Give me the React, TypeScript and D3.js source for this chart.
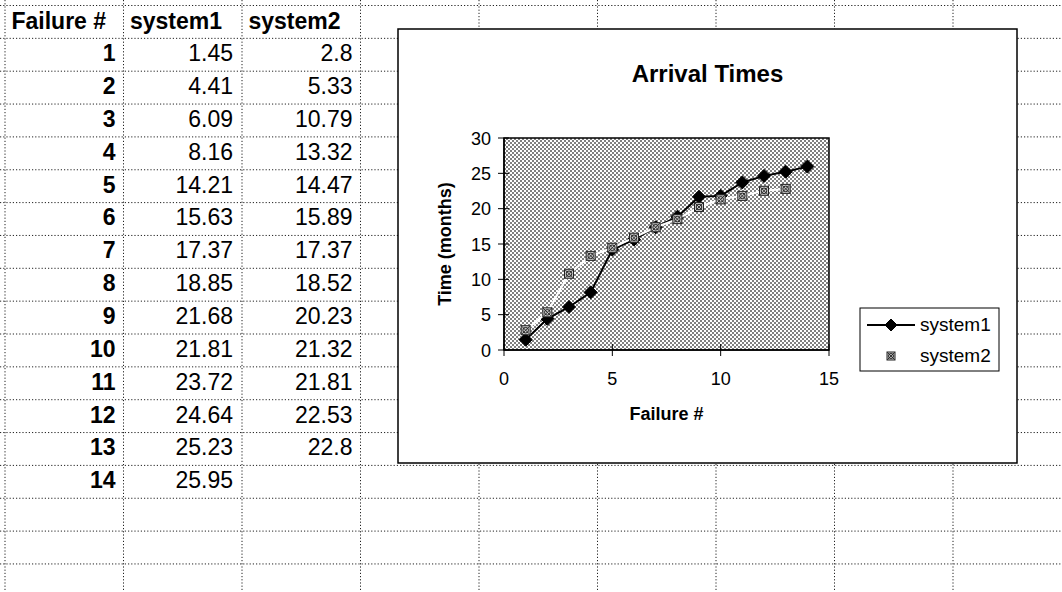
import React from "react";
import * as d3 from "d3";

const headers = ["Failure #", "system1", "system2"];
const failures = [1, 2, 3, 4, 5, 6, 7, 8, 9, 10, 11, 12, 13, 14];
const system1 = [1.45, 4.41, 6.09, 8.16, 14.21, 15.63, 17.37, 18.85, 21.68, 21.81, 23.72, 24.64, 25.23, 25.95];
const system2 = [2.8, 5.33, 10.79, 13.32, 14.47, 15.89, 17.37, 18.52, 20.23, 21.32, 21.81, 22.53, 22.8];
const xTicks = [0, 5, 10, 15];
const yTicks = [0, 5, 10, 15, 20, 25, 30];
const chartTitle = "Arrival Times";
const xTitle = "Failure #";
const yTitle = "Time (months)";

const W = 1062;
const H = 592;
const FONT = "Arial, 'Liberation Sans', sans-serif";

const colX = d3.range(10).map((k) => 5 + 118.5 * k);
const rowY = d3.range(19).map((k) => 5.5 + 32.85 * k);

const chartBox = { x: 398, y: 29, w: 619, h: 434 };
const plot = { l: 504, r: 829, t: 138, b: 350 };

const xScale = d3.scaleLinear().domain([0, 15]).range([plot.l, plot.r]);
const yScale = d3.scaleLinear().domain([0, 30]).range([plot.b, plot.t]);

function Diamond({ cx, cy, r = 6.5 }: { cx: number; cy: number; r?: number }) {
  const p = `M${cx},${cy - r}L${cx + r},${cy}L${cx},${cy + r}L${cx - r},${cy}Z`;
  return <path d={p} fill="#000" stroke="#000" strokeWidth={1} />;
}

function XMark({ cx, cy, s = 9 }: { cx: number; cy: number; s?: number }) {
  const h = s / 2;
  return (
    <g>
      <rect x={cx - h} y={cy - h} width={s} height={s} fill="#c8c8c8" stroke="#222" strokeWidth={1} />
      <line x1={cx - h} y1={cy - h} x2={cx + h} y2={cy + h} stroke="#333" strokeWidth={1} />
      <line x1={cx + h} y1={cy - h} x2={cx - h} y2={cy + h} stroke="#333" strokeWidth={1} />
      <circle cx={cx} cy={cy} r={h * 0.62} fill="none" stroke="#222" strokeWidth={1} />
    </g>
  );
}

export default function App() {
  const line1 = d3
    .line<number>()
    .x((_, i) => xScale(failures[i]))
    .y((d) => yScale(d))(system1) as string;
  const line2 = d3
    .line<number>()
    .x((_, i) => xScale(failures[i]))
    .y((d) => yScale(d))(system2) as string;

  return (
    <svg
      width={W}
      height={H}
      style={{ position: "absolute", left: 0, top: 0, background: "#fff" }}
      fontFamily={FONT}
    >
      <defs>
        <pattern id="ht" width={4} height={4} patternUnits="userSpaceOnUse">
          <rect width={4} height={4} fill="#ffffff" />
          <rect x={0} y={0} width={2} height={2} fill="#808080" />
          <rect x={2} y={2} width={2} height={2} fill="#808080" />
        </pattern>
      </defs>
      <rect width={W} height={H} fill="#fff" />

      {/* spreadsheet grid */}
      {rowY.map((y, i) => (
        <line key={"h" + i} x1={0} x2={W} y1={y} y2={y} stroke="#222" strokeWidth={1} strokeDasharray="1.2,2" />
      ))}
      {colX.map((x, i) => (
        <line key={"v" + i} x1={x} x2={x} y1={0} y2={H} stroke="#222" strokeWidth={1} strokeDasharray="1.2,2" />
      ))}

      {/* table text */}
      <g fontSize={23} fill="#000">
        {headers.map((h, i) => (
          <text key={"hd" + i} x={colX[i] + 6.5} y={rowY[1] - 9} fontWeight="bold">
            {h}
          </text>
        ))}
        {failures.map((f, i) => (
          <g key={"r" + i}>
            <text x={colX[1] - 8} y={rowY[i + 2] - 10} textAnchor="end" fontWeight="bold">
              {f}
            </text>
            <text x={colX[2] - 9} y={rowY[i + 2] - 10} textAnchor="end">
              {system1[i]}
            </text>
            {system2[i] !== undefined && (
              <text x={colX[3] - 8} y={rowY[i + 2] - 10} textAnchor="end">
                {system2[i]}
              </text>
            )}
          </g>
        ))}
      </g>

      {/* chart */}
      <rect
        x={chartBox.x}
        y={chartBox.y}
        width={chartBox.w}
        height={chartBox.h}
        fill="#fff"
        stroke="#000"
        strokeWidth={1.5}
      />
      <text
        x={chartBox.x + chartBox.w / 2}
        y={82}
        textAnchor="middle"
        fontWeight="bold"
        fontSize={24}
      >
        {chartTitle}
      </text>

      <rect
        x={plot.l}
        y={plot.t}
        width={plot.r - plot.l}
        height={plot.b - plot.t}
        fill="url(#ht)"
        stroke="#000"
        strokeWidth={1.5}
      />

      {/* axes */}
      {yTicks.map((t) => (
        <g key={"yt" + t}>
          <line x1={plot.l - 6} x2={plot.l + 5} y1={yScale(t)} y2={yScale(t)} stroke="#000" strokeWidth={1} />
          <text x={plot.l - 13} y={yScale(t) + 6.5} textAnchor="end" fontSize={18}>
            {t}
          </text>
        </g>
      ))}
      {xTicks.map((t) => (
        <g key={"xt" + t}>
          <line x1={xScale(t)} x2={xScale(t)} y1={plot.b - 6} y2={plot.b + 6} stroke="#000" strokeWidth={1} />
          <text x={xScale(t)} y={385} textAnchor="middle" fontSize={18}>
            {t}
          </text>
        </g>
      ))}
      <line x1={plot.l} x2={plot.l} y1={plot.t} y2={plot.b} stroke="#000" strokeWidth={1.5} />
      <line x1={plot.l} x2={plot.r} y1={plot.b} y2={plot.b} stroke="#000" strokeWidth={1.5} />

      <text
        transform={`translate(451,${(plot.t + plot.b) / 2}) rotate(-90)`}
        textAnchor="middle"
        fontWeight="bold"
        fontSize={18}
      >
        {yTitle}
      </text>
      <text x={(plot.l + plot.r) / 2} y={420} textAnchor="middle" fontWeight="bold" fontSize={18}>
        {xTitle}
      </text>

      {/* series */}
      <path d={line1} fill="none" stroke="#000" strokeWidth={2} />
      {system1.map((v, i) => (
        <Diamond key={"d" + i} cx={xScale(failures[i])} cy={yScale(v)} />
      ))}
      <path d={line2} fill="none" stroke="#fff" strokeWidth={2} />
      {system2.map((v, i) => (
        <XMark key={"m" + i} cx={xScale(failures[i])} cy={yScale(v)} />
      ))}

      {/* legend */}
      <rect x={860} y={308} width={139} height={63} fill="#fff" stroke="#000" strokeWidth={1} />
      <line x1={867} x2={915} y1={325} y2={325} stroke="#000" strokeWidth={2} />
      <Diamond cx={891} cy={325} r={6} />
      <text x={920} y={331} fontSize={19}>
        {headers[1]}
      </text>
      <XMark cx={891} cy={356} s={8} />
      <text x={920} y={362} fontSize={19}>
        {headers[2]}
      </text>
    </svg>
  );
}
